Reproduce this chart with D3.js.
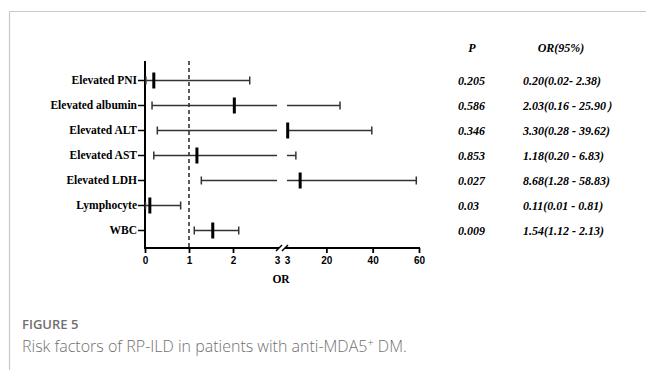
<!DOCTYPE html>
<html lang="en">
<head>
    <meta charset="UTF-8">
    <title>Figure 5</title>
    <script src="https://cdn.jsdelivr.net/npm/d3@7"></script>
    <style>
        body {
            margin: 0;
            background: #fff;
        }
        svg {
            display: block;
        }
        text.cat {
            font-family: 'Liberation Serif', 'Times New Roman', serif;
            font-weight: bold;
            font-size: 11.5px;
        }
        .tbl {
            font-family: 'Liberation Serif', 'Times New Roman', serif;
            font-weight: bold;
            font-style: italic;
            font-size: 12px;
        }
        .xaxis .tick text {
            font-family: 'Liberation Sans', Arial, sans-serif;
            font-weight: bold;
            font-size: 10px;
        }
        .caption {
            font-family: 'Open Sans', sans-serif;
            fill: #707070;
        }
    </style>
</head>
<body>
    <svg id="chart"></svg>

    <script>
        // data
        const categories = ["Elevated PNI", "Elevated albumin", "Elevated ALT", "Elevated AST", "Elevated LDH", "Lymphocyte", "WBC"];
        const orValues = [0.20, 2.03, 3.30, 1.18, 8.68, 0.11, 1.54];
        const ciLow = [0.02, 0.16, 0.28, 0.20, 1.28, 0.01, 1.12];
        const ciHigh = [2.38, 25.90, 39.62, 6.83, 58.83, 0.81, 2.13];
        const pValues = ["0.205", "0.586", "0.346", "0.853", "0.027", "0.03", "0.009"];
        const orText = ["0.20(0.02- 2.38)", "2.03(0.16 - 25.90\uFF09", "3.30(0.28 - 39.62)", "1.18(0.20 - 6.83)",
                        "8.68(1.28 - 58.83)", "0.11(0.01 -  0.81)", "1.54(1.12 - 2.13)"];
        const ticksLeft = [0, 1, 2, 3];
        const ticksRight = [3, 20, 40, 60];

        const width = 646, height = 370;
        const svg = d3.select("#chart").attr("width", width).attr("height", height);

        // page frame (top + left rule)
        svg.append("line").attr("x1", 9.5).attr("x2", width).attr("y1", 11.5).attr("y2", 11.5)
            .attr("stroke", "#c8c8c8").attr("stroke-width", 1.2);
        svg.append("line").attr("x1", 9.5).attr("x2", 9.5).attr("y1", 11.5).attr("y2", height)
            .attr("stroke", "#c8c8c8").attr("stroke-width", 1.2);

        const axisY = 248, axisTop = 61;
        const x1 = d3.scaleLinear().domain([0, 3]).range([145, 277]);
        const x2 = d3.scaleLinear().domain([3, 60]).range([287, 419]);
        const y = d3.scaleBand().domain(categories).range([68, 243]);
        const cy = d => y(d) + y.bandwidth() / 2;

        const g = svg.append("g");

        // reference line at OR = 1
        g.append("line")
            .attr("x1", x1(1)).attr("x2", x1(1))
            .attr("y1", axisTop).attr("y2", axisY)
            .attr("stroke", "#333").attr("stroke-width", 1.6)
            .attr("stroke-dasharray", "4,3");

        // y axis
        const yAxis = g.append("g").attr("transform", `translate(${x1(0)},0)`)
            .call(d3.axisLeft(y).tickSize(7).tickPadding(1).tickSizeOuter(0));
        yAxis.select(".domain").remove();
        yAxis.append("line").attr("x1", 0).attr("x2", 0).attr("y1", axisTop).attr("y2", axisY + 1)
            .attr("stroke", "#000").attr("stroke-width", 2);
        yAxis.selectAll(".tick line").attr("stroke", "#000").attr("stroke-width", 1.5);
        yAxis.selectAll(".tick text").attr("class", "cat").attr("fill", "#000");

        // x axis, two broken segments
        const axL = g.append("g").attr("class", "xaxis").attr("transform", `translate(0,${axisY})`)
            .call(d3.axisBottom(x1).tickValues(ticksLeft).tickFormat(d3.format("d")).tickSize(5).tickSizeOuter(0).tickPadding(4));
        axL.select(".domain").attr("d", `M${x1(0)},0H${x1(3) + 2}`);
        axL.selectAll(".tick").filter(d => d === 3).select("line").remove();
        const axR = g.append("g").attr("class", "xaxis").attr("transform", `translate(0,${axisY})`)
            .call(d3.axisBottom(x2).tickValues(ticksRight).tickFormat(d3.format("d")).tickSize(5).tickSizeOuter(0).tickPadding(4));
        axR.select(".domain").attr("d", `M${x2(3) - 2},0H${x2(60) + 1}`);
        axR.selectAll(".tick").filter(d => d === 3).select("line").remove();
        [axL, axR].forEach(a => {
            a.select(".domain").attr("stroke", "#000").attr("stroke-width", 2);
            a.selectAll(".tick line").attr("stroke", "#000").attr("stroke-width", 1.8);
            a.selectAll(".tick text").attr("fill", "#000");
        });
        // break slashes
        [x1(3) + 2, x2(3) - 2].forEach(bx => {
            g.append("line").attr("x1", bx - 3).attr("x2", bx + 3)
                .attr("y1", axisY + 3).attr("y2", axisY - 3)
                .attr("stroke", "#000").attr("stroke-width", 1.5);
        });

        g.append("text").attr("class", "cat").attr("x", 281).attr("y", axisY + 35)
            .attr("text-anchor", "middle").text("OR");

        // confidence intervals
        const ciColor = "#333";
        const rows = categories.map((c, i) => ({ c, or: orValues[i], lo: ciLow[i], hi: ciHigh[i] }));
        const px = v => v <= 3 ? x1(v) : x2(v);

        rows.forEach(r => {
            const yy = cy(r.c);
            const segs = r.hi <= 3 ? [[x1(r.lo), x1(r.hi)]]
                : r.lo >= 3 ? [[x2(r.lo), x2(r.hi)]]
                : [[x1(r.lo), x1(3)], [x2(3), x2(r.hi)]];
            segs.forEach(s => {
                g.append("line").attr("x1", s[0]).attr("x2", s[1]).attr("y1", yy).attr("y2", yy)
                    .attr("stroke", ciColor).attr("stroke-width", 1.5);
            });
            [r.lo, r.hi].forEach(v => {
                g.append("line").attr("x1", px(v)).attr("x2", px(v)).attr("y1", yy - 4).attr("y2", yy + 4)
                    .attr("stroke", ciColor).attr("stroke-width", 1.5);
            });
            g.append("line").attr("x1", px(r.or)).attr("x2", px(r.or)).attr("y1", yy - 8).attr("y2", yy + 8)
                .attr("stroke", "#000").attr("stroke-width", 3);
        });

        // table on the right
        g.append("text").attr("class", "tbl").attr("x", 472).attr("y", 52).attr("text-anchor", "middle").text("P");
        g.append("text").attr("class", "tbl").attr("x", 561).attr("y", 52).attr("text-anchor", "middle").text("OR(95%)");
        categories.forEach((c, i) => {
            g.append("text").attr("class", "tbl").attr("x", 458).attr("y", cy(c) + 4).text(pValues[i]);
            g.append("text").attr("class", "tbl").attr("x", 523).attr("y", cy(c) + 4).text(orText[i]);
        });

        // caption
        svg.append("text").attr("class", "caption").attr("x", 22).attr("y", 329)
            .attr("font-size", 13).attr("font-weight", 600).text("FIGURE 5");
        const cap = svg.append("text").attr("class", "caption").attr("x", 22).attr("y", 352)
            .attr("font-size", 16).attr("font-weight", 300);
        cap.append("tspan").text("Risk factors of RP-ILD in patients with anti-MDA5");
        cap.append("tspan").attr("dy", -6).attr("font-size", 11).text("+");
        cap.append("tspan").attr("dy", 6).text(" DM.");
    </script>
</body>
</html>
